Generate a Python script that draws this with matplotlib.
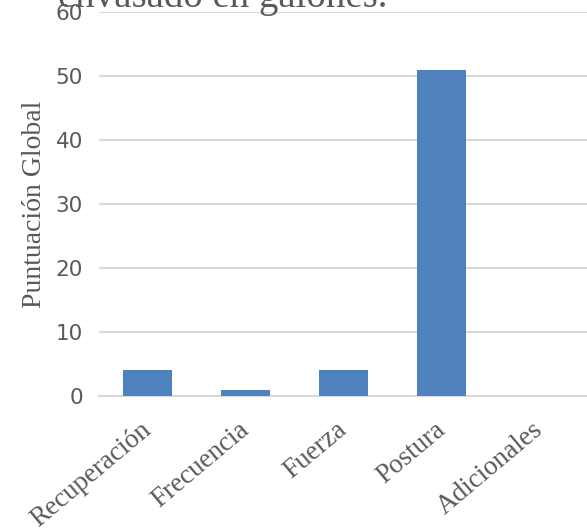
import numpy as np
import matplotlib.pyplot as plt

categorias = ['Recuperación', 'Frecuencia', 'Fuerza', 'Postura', 'Adicionales']
puntuacion = [4, 1, 4, 51, 0]
y_ticks = [0, 10, 20, 30, 40, 50, 60]

fig = plt.figure(figsize=(5.87, 5.30), dpi=100)
ax = fig.add_axes([99 / 587, 1 - 396 / 530, 1 - 99 / 587, (396 - 12) / 530])

x = np.arange(len(categorias))
ax.bar(x, puntuacion, width=0.5, color='#4F81BD', zorder=3)

ax.set_xlim(-0.5, 4.48)
ax.set_ylim(0, 60)
ax.set_yticks(y_ticks)
ax.yaxis.grid(True, color='#D9D9D9', linewidth=1.5, zorder=0)
ax.set_axisbelow(True)
for s in ['top', 'right', 'left']:
    ax.spines[s].set_visible(False)
ax.spines['bottom'].set_color('#D9D9D9')
ax.spines['bottom'].set_linewidth(1.5)
ax.tick_params(axis='both', length=0, colors='#595959')
ax.tick_params(axis='y', labelsize=15.5, pad=11.5)

ax.set_xticks(x)
ax.set_xticklabels(categorias, rotation=40, ha='right', va='center',
                   rotation_mode='anchor', family='Liberation Serif',
                   fontsize=19.5, color='#595959')
ax.tick_params(axis='x', pad=22)

ax.set_ylabel('Puntuación Global', family='Liberation Serif', fontsize=20,
              color='#595959', labelpad=6)

fig.text(58 / 587, 1 - 7 / 530, 'envasado en galones.', family='Liberation Serif',
         fontsize=28, color='#595959', va='baseline', ha='left')

fig.savefig('out.png', dpi=100)
